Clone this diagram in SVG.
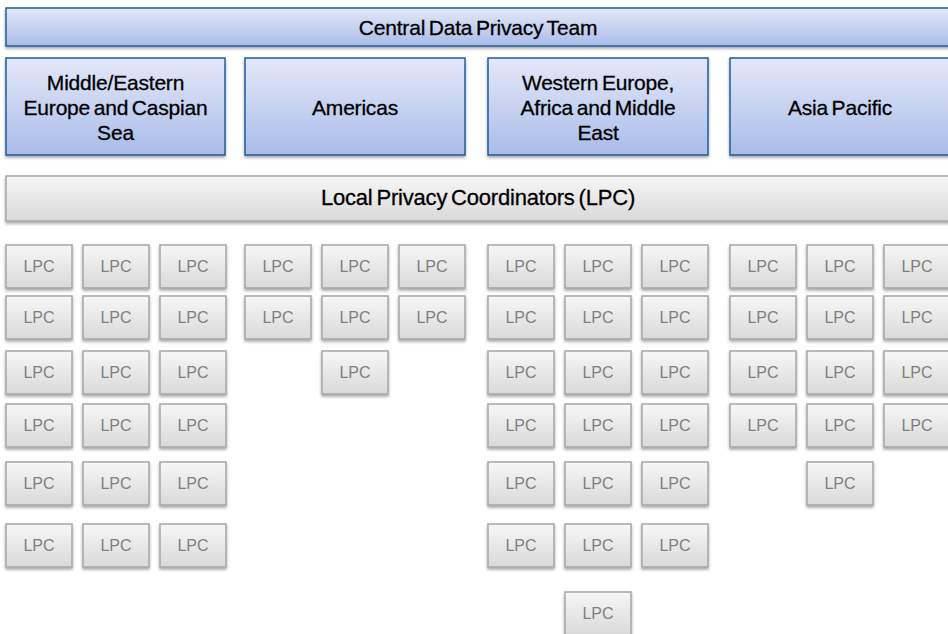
<svg xmlns="http://www.w3.org/2000/svg" width="948" height="634" viewBox="0 0 948 634">
<defs>
<linearGradient id="gb" x1="0" y1="0" x2="0" y2="1"><stop offset="0" stop-color="#e4e9f9"/><stop offset="1" stop-color="#a9bce8"/></linearGradient>
<linearGradient id="gg" x1="0" y1="0" x2="0" y2="1"><stop offset="0" stop-color="#f7f7f7"/><stop offset="1" stop-color="#d9d9d9"/></linearGradient>
<filter id="sh" x="-10%" y="-20%" width="120%" height="150%"><feDropShadow dx="0" dy="2" stdDeviation="1.5" flood-color="#000" flood-opacity="0.35"/></filter>
<style>
.b{fill:url(#gb);stroke:#1f5b9c;stroke-width:1.5;filter:url(#sh)}
.g{fill:url(#gg);stroke:#a6a6a6;stroke-width:1.5;filter:url(#sh)}
.gb{fill:url(#gg);stroke:#a6a6a6;stroke-width:1.5;filter:url(#sh)}
.h{font-family:"Liberation Sans",Arial,sans-serif;font-size:21px;fill:#000;stroke:#000;stroke-width:0.3;text-anchor:middle;letter-spacing:-0.2px;word-spacing:-2px}
.l{font-family:"Liberation Sans",Arial,sans-serif;font-size:16px;fill:#808080;text-anchor:middle}
</style>
</defs>
<g id="central"><rect class="b" x="6" y="8" width="950" height="38"/><text class="h" x="478" y="35">Central Data Privacy Team</text></g>
<g id="region-mee"><rect class="b" x="6" y="58" width="219" height="97"/><text class="h" x="115.5" y="90">Middle/Eastern</text><text class="h" x="115.5" y="115">Europe and Caspian</text><text class="h" x="115.5" y="140">Sea</text></g>
<g id="region-americas"><rect class="b" x="245" y="58" width="220" height="97"/><text class="h" x="355" y="115">Americas</text></g>
<g id="region-weame"><rect class="b" x="488" y="58" width="220" height="97"/><text class="h" x="598" y="90">Western Europe,</text><text class="h" x="598" y="115">Africa and Middle</text><text class="h" x="598" y="140">East</text></g>
<g id="region-apac"><rect class="b" x="730" y="58" width="226" height="97"/><text class="h" x="840" y="115">Asia Pacific</text></g>
<g id="lpc-bar"><rect class="gb" x="6" y="176" width="950" height="45"/><text class="h" x="478" y="205" style="font-size:22px">Local Privacy Coordinators (LPC)</text></g>
<g id="connectors"/>
<g id="lpc-mee">
<g id="m11"><rect class="g" x="6" y="245" width="66" height="43"/><text class="l" x="39" y="272">LPC</text></g>
<g id="m12"><rect class="g" x="83" y="245" width="66" height="43"/><text class="l" x="116" y="272">LPC</text></g>
<g id="m13"><rect class="g" x="160" y="245" width="66" height="43"/><text class="l" x="193" y="272">LPC</text></g>
<g id="m21"><rect class="g" x="6" y="296" width="66" height="43"/><text class="l" x="39" y="323">LPC</text></g>
<g id="m22"><rect class="g" x="83" y="296" width="66" height="43"/><text class="l" x="116" y="323">LPC</text></g>
<g id="m23"><rect class="g" x="160" y="296" width="66" height="43"/><text class="l" x="193" y="323">LPC</text></g>
<g id="m31"><rect class="g" x="6" y="351" width="66" height="43"/><text class="l" x="39" y="378">LPC</text></g>
<g id="m32"><rect class="g" x="83" y="351" width="66" height="43"/><text class="l" x="116" y="378">LPC</text></g>
<g id="m33"><rect class="g" x="160" y="351" width="66" height="43"/><text class="l" x="193" y="378">LPC</text></g>
<g id="m41"><rect class="g" x="6" y="404" width="66" height="43"/><text class="l" x="39" y="431">LPC</text></g>
<g id="m42"><rect class="g" x="83" y="404" width="66" height="43"/><text class="l" x="116" y="431">LPC</text></g>
<g id="m43"><rect class="g" x="160" y="404" width="66" height="43"/><text class="l" x="193" y="431">LPC</text></g>
<g id="m51"><rect class="g" x="6" y="462" width="66" height="43"/><text class="l" x="39" y="489">LPC</text></g>
<g id="m52"><rect class="g" x="83" y="462" width="66" height="43"/><text class="l" x="116" y="489">LPC</text></g>
<g id="m53"><rect class="g" x="160" y="462" width="66" height="43"/><text class="l" x="193" y="489">LPC</text></g>
<g id="m61"><rect class="g" x="6" y="524" width="66" height="43"/><text class="l" x="39" y="551">LPC</text></g>
<g id="m62"><rect class="g" x="83" y="524" width="66" height="43"/><text class="l" x="116" y="551">LPC</text></g>
<g id="m63"><rect class="g" x="160" y="524" width="66" height="43"/><text class="l" x="193" y="551">LPC</text></g>
</g>
<g id="lpc-americas">
<g id="a11"><rect class="g" x="245" y="245" width="66" height="43"/><text class="l" x="278" y="272">LPC</text></g>
<g id="a12"><rect class="g" x="322" y="245" width="66" height="43"/><text class="l" x="355" y="272">LPC</text></g>
<g id="a13"><rect class="g" x="399" y="245" width="66" height="43"/><text class="l" x="432" y="272">LPC</text></g>
<g id="a21"><rect class="g" x="245" y="296" width="66" height="43"/><text class="l" x="278" y="323">LPC</text></g>
<g id="a22"><rect class="g" x="322" y="296" width="66" height="43"/><text class="l" x="355" y="323">LPC</text></g>
<g id="a23"><rect class="g" x="399" y="296" width="66" height="43"/><text class="l" x="432" y="323">LPC</text></g>
<g id="a32"><rect class="g" x="322" y="351" width="66" height="43"/><text class="l" x="355" y="378">LPC</text></g>
</g>
<g id="lpc-weame">
<g id="w11"><rect class="g" x="488" y="245" width="66" height="43"/><text class="l" x="521" y="272">LPC</text></g>
<g id="w12"><rect class="g" x="565" y="245" width="66" height="43"/><text class="l" x="598" y="272">LPC</text></g>
<g id="w13"><rect class="g" x="642" y="245" width="66" height="43"/><text class="l" x="675" y="272">LPC</text></g>
<g id="w21"><rect class="g" x="488" y="296" width="66" height="43"/><text class="l" x="521" y="323">LPC</text></g>
<g id="w22"><rect class="g" x="565" y="296" width="66" height="43"/><text class="l" x="598" y="323">LPC</text></g>
<g id="w23"><rect class="g" x="642" y="296" width="66" height="43"/><text class="l" x="675" y="323">LPC</text></g>
<g id="w31"><rect class="g" x="488" y="351" width="66" height="43"/><text class="l" x="521" y="378">LPC</text></g>
<g id="w32"><rect class="g" x="565" y="351" width="66" height="43"/><text class="l" x="598" y="378">LPC</text></g>
<g id="w33"><rect class="g" x="642" y="351" width="66" height="43"/><text class="l" x="675" y="378">LPC</text></g>
<g id="w41"><rect class="g" x="488" y="404" width="66" height="43"/><text class="l" x="521" y="431">LPC</text></g>
<g id="w42"><rect class="g" x="565" y="404" width="66" height="43"/><text class="l" x="598" y="431">LPC</text></g>
<g id="w43"><rect class="g" x="642" y="404" width="66" height="43"/><text class="l" x="675" y="431">LPC</text></g>
<g id="w51"><rect class="g" x="488" y="462" width="66" height="43"/><text class="l" x="521" y="489">LPC</text></g>
<g id="w52"><rect class="g" x="565" y="462" width="66" height="43"/><text class="l" x="598" y="489">LPC</text></g>
<g id="w53"><rect class="g" x="642" y="462" width="66" height="43"/><text class="l" x="675" y="489">LPC</text></g>
<g id="w61"><rect class="g" x="488" y="524" width="66" height="43"/><text class="l" x="521" y="551">LPC</text></g>
<g id="w62"><rect class="g" x="565" y="524" width="66" height="43"/><text class="l" x="598" y="551">LPC</text></g>
<g id="w63"><rect class="g" x="642" y="524" width="66" height="43"/><text class="l" x="675" y="551">LPC</text></g>
<g id="w72"><rect class="g" x="565" y="592" width="66" height="43"/><text class="l" x="598" y="619">LPC</text></g>
</g>
<g id="lpc-apac">
<g id="p11"><rect class="g" x="730" y="245" width="66" height="43"/><text class="l" x="763" y="272">LPC</text></g>
<g id="p12"><rect class="g" x="807" y="245" width="66" height="43"/><text class="l" x="840" y="272">LPC</text></g>
<g id="p13"><rect class="g" x="884" y="245" width="66" height="43"/><text class="l" x="917" y="272">LPC</text></g>
<g id="p21"><rect class="g" x="730" y="296" width="66" height="43"/><text class="l" x="763" y="323">LPC</text></g>
<g id="p22"><rect class="g" x="807" y="296" width="66" height="43"/><text class="l" x="840" y="323">LPC</text></g>
<g id="p23"><rect class="g" x="884" y="296" width="66" height="43"/><text class="l" x="917" y="323">LPC</text></g>
<g id="p31"><rect class="g" x="730" y="351" width="66" height="43"/><text class="l" x="763" y="378">LPC</text></g>
<g id="p32"><rect class="g" x="807" y="351" width="66" height="43"/><text class="l" x="840" y="378">LPC</text></g>
<g id="p33"><rect class="g" x="884" y="351" width="66" height="43"/><text class="l" x="917" y="378">LPC</text></g>
<g id="p41"><rect class="g" x="730" y="404" width="66" height="43"/><text class="l" x="763" y="431">LPC</text></g>
<g id="p42"><rect class="g" x="807" y="404" width="66" height="43"/><text class="l" x="840" y="431">LPC</text></g>
<g id="p43"><rect class="g" x="884" y="404" width="66" height="43"/><text class="l" x="917" y="431">LPC</text></g>
<g id="p52"><rect class="g" x="807" y="462" width="66" height="43"/><text class="l" x="840" y="489">LPC</text></g>
</g>
</svg>
